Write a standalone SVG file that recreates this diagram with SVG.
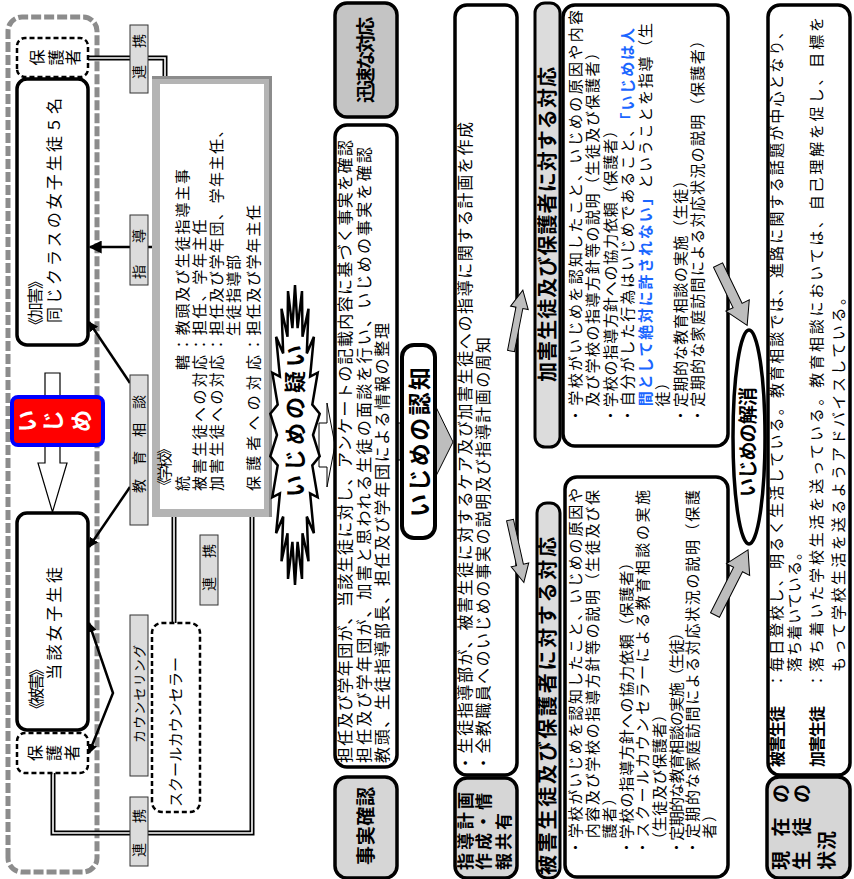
<svg xmlns="http://www.w3.org/2000/svg" width="854" height="879" viewBox="0 0 854 879">
<style>
text{font-family:"Noto Sans CJK JP","Noto Sans CJK SC",sans-serif}
.bx{fill:#fff;stroke:#000;stroke-width:3.5}
.dsh{fill:#fff;stroke:#000;stroke-width:2.5;stroke-dasharray:5 3}
.lbl{fill:#dcdcdc;stroke:#333;stroke-width:1}
.hd{fill:#dcdcdc;stroke:#000;stroke-width:3}
.gl{fill:#d6d6d6;stroke:#000;stroke-width:3.5}
.ln{fill:none;stroke:#000;stroke-width:2.5}
.dbl{fill:none;stroke:#000;stroke-width:5}
.dbi{fill:none;stroke:#fff;stroke-width:1.6}
.ga{fill:#bdbdbd;stroke:#000;stroke-width:1}
.bl{fill:#1a66ff;font-weight:bold}
.b{font-weight:bold}
</style>
<defs>
<marker id="ah" viewBox="0 0 10 10" refX="9" refY="5" markerWidth="10" markerHeight="10" markerUnits="userSpaceOnUse" orient="auto-start-reverse"><path d="M0,0 L10,5 L0,10 z"/></marker>
<marker id="ah2" viewBox="0 0 10 10" refX="9" refY="5" markerWidth="13" markerHeight="13" markerUnits="userSpaceOnUse" orient="auto"><path d="M0,0 L10,5 L0,10 z"/></marker>
</defs>
<g transform="matrix(0,-1,1,0,0,879)">
<g id="band"><rect x="7" y="8" width="855" height="89" rx="14" fill="none" stroke="#8c8c8c" stroke-width="5" stroke-dasharray="10 3"/></g>

<g id="connectors">
<path class="dbl" d="M821,88 V165 H803"/><path class="dbi" d="M821,88 V165 H803"/>
<path class="dbl" d="M106,53 H46 V252 H362"/><path class="dbi" d="M106,53 H46 V252 H362"/>
<path class="dbl" d="M362,174 H256"/><path class="dbi" d="M362,174 H256"/>
<path class="ln" stroke-width="4" d="M632,152 V90" marker-end="url(#ah2)"/>
<path class="ln" d="M496,130 L557,89" marker-end="url(#ah)"/>
<path class="ln" d="M392,130 L332,89" marker-end="url(#ah)"/>
<path class="ln" d="M256,89 L186,113 L126,89" marker-start="url(#ah)" marker-end="url(#ah)"/>
<polygon fill="#fff" stroke="#000" stroke-width="1.2" points="506,45 416,45 416,38 367,52.5 416,67 416,60 506,60"/>
<polygon fill="#fff" stroke="#000" stroke-width="1" points="412,319 456,319 456,327 476,327 434,335 392,327 412,327"/>
<polygon class="ga" points="419,397 456,397 456,435 474,435 437,453 401,435 419,435"/>
</g>

<g id="hogosha-top"><rect class="dsh" x="802" y="17" width="39" height="71" rx="8"/>
<text x="821.5" y="43" text-anchor="middle" font-size="16">保</text>
<text x="821.5" y="62" text-anchor="middle" font-size="16">護</text>
<text x="821.5" y="79" text-anchor="middle" font-size="16">者</text></g>

<g id="kagai"><rect class="bx" x="534" y="17" width="266" height="71" rx="10"/>
<text x="546" y="41" font-size="16" textLength="60">《加害》</text>
<text x="556" y="60" font-size="16" textLength="225">同じクラスの女子生徒５名</text></g>

<g id="ijime"><rect x="434" y="12" width="48" height="91" rx="6" fill="#f00" stroke="#00f" stroke-width="4"/>
<text x="458" y="35" text-anchor="middle" font-size="22" font-weight="bold" fill="#fff">い</text>
<text x="458" y="61" text-anchor="middle" font-size="22" font-weight="bold" fill="#fff">じ</text>
<text x="458" y="89" text-anchor="middle" font-size="22" font-weight="bold" fill="#fff">め</text></g>

<g id="higai"><rect class="bx" x="149" y="17" width="217" height="71" rx="10"/>
<text x="162" y="42" font-size="16" textLength="56">《被害》</text>
<text x="199" y="60" font-size="16" textLength="113">当該女子生徒</text></g>

<g id="hogosha-bottom"><rect class="dsh" x="106" y="17" width="40" height="71" rx="8"/>
<text x="126" y="41" text-anchor="middle" font-size="16">保</text>
<text x="126" y="60" text-anchor="middle" font-size="16">護</text>
<text x="126" y="78" text-anchor="middle" font-size="16">者</text></g>

<g id="school">
<rect x="366" y="156" width="433" height="112" fill="#fff" stroke="#b4b4b4" stroke-width="8"/>
<path d="M362,270.5 H801.5 V152" fill="none" stroke="#8c8c8c" stroke-width="3"/>
<text x="386" y="170" font-size="15" textLength="52">《学校》</text>
<text x="388" y="188" font-size="15">統</text>
<text x="509" y="188" font-size="15">轄</text>
<text x="527" y="188" font-size="15" letter-spacing="1.8">：教頭及び生徒指導主事</text>
<text x="388" y="205" font-size="15" textLength="136">被害生徒への対応</text>
<text x="527" y="205" font-size="15" letter-spacing="1.8">：担任、学年主任</text>
<text x="388" y="222" font-size="15" textLength="136">加害生徒への対応</text>
<text x="527" y="222" font-size="15" letter-spacing="1.5">：担任及び学年団、学年主任、</text>
<text x="543" y="239" font-size="15" letter-spacing="1.5">生徒指導部</text>
<text x="388" y="259" font-size="15" textLength="136">保護者への対応</text>
<text x="527" y="259" font-size="15" letter-spacing="1.5">：担任及び学年主任</text>
</g>

<g id="sc"><rect class="dsh" x="67" y="152" width="189" height="48" rx="10"/>
<text x="72" y="181" font-size="15" textLength="150">スクールカウンセラー</text></g>

<g id="utagai"><polygon fill="#fff" stroke="#000" stroke-width="2.5" points="594,295 550.9,297.6 587.9,302 542.2,302.5 570.2,308.5 525.6,306.8 542.2,313.9 502.4,310.1 506.3,317.7 474.4,312.3 465.3,319.7 444,313 422.7,319.7 413.6,312.3 381.7,317.7 385.6,310.1 345.8,313.9 362.4,306.8 317.8,308.5 345.8,302.5 300.1,302 337.1,297.6 294,295 337.1,292.4 300.1,288 345.8,287.5 317.8,281.5 362.4,283.2 345.8,276.1 385.6,279.9 381.7,272.3 413.6,277.7 422.7,270.3 444,277 465.3,270.3 474.4,277.7 506.3,272.3 502.4,279.9 542.2,276.1 525.6,283.2 570.2,281.5 542.2,287.5 587.9,288 550.9,292.4"/>
<text x="382" y="303" font-size="22" font-weight="bold" textLength="152">いじめの疑い</text></g>

<g id="jinsoku"><rect x="762" y="335" width="114" height="62" rx="12" fill="#c4c4c4" stroke="#000" stroke-width="3.5"/>
<text x="776" y="373" font-size="19" font-weight="bold" textLength="86">迅速な対応</text></g>

<g id="jijitsu"><rect class="bx" x="112" y="335" width="642" height="62" rx="12"/>
<text x="116" y="351" font-size="16" textLength="623">担任及び学年団が、当該生徒に対し、アンケートの記載内容に基づく事実を確認</text>
<text x="116" y="370" font-size="16" textLength="616">担任及び学年団が、加害と思われる生徒の面談を行い、いじめの事実を確認</text>
<text x="116" y="388" font-size="16" textLength="440">教頭、生徒指導部長、担任及び学年団による情報の整理</text></g>

<g id="jijitsu-label"><rect class="gl" x="1" y="335" width="101" height="62" rx="12"/>
<text x="14" y="373" font-size="19" font-weight="bold" textLength="78">事実確認</text></g>

<g id="shido"><rect class="bx" x="104" y="455" width="770" height="62" rx="12"/>
<text x="108" y="471" font-size="16" textLength="649">・生徒指導部が、被害生徒に対するケア及び加害生徒への指導に関する計画を作成</text>
<text x="108" y="489" font-size="16" textLength="434">・全教職員へのいじめの事実の説明及び指導計画の周知</text></g>

<g id="shido-label"><rect class="gl" x="1" y="455" width="100" height="62" rx="12"/>
<text x="9" y="472" font-size="17" font-weight="bold" textLength="78">指導計画</text>
<text x="9" y="490" font-size="17" font-weight="bold" textLength="77">作成・情</text>
<text x="9" y="510" font-size="17" font-weight="bold" textLength="57">報共有</text></g>

<g id="ninchi"><rect x="341" y="402" width="193" height="33" rx="12" fill="#fff" stroke="#000" stroke-width="4"/>
<text x="362" y="428" font-size="23" font-weight="bold" textLength="150">いじめの認知</text></g>

<g id="higai-sec">
<rect class="hd" x="1" y="537" width="375" height="23" rx="10"/>
<text x="4" y="555" font-size="20" font-weight="bold" textLength="338">被害生徒及び保護者に対する対応</text>
<rect class="bx" x="2" y="565" width="400" height="163" rx="12"/>
<text x="24" y="581" font-size="15" textLength="367">・学校がいじめを認知したこと、いじめの原因や</text>
<text x="24" y="598" font-size="15" textLength="365">　内容及び学校の指導方針等の説明（生徒及び保</text>
<text x="24" y="615" font-size="15" letter-spacing="1.5">　護者）</text>
<text x="24" y="632" font-size="15" textLength="300">・学校の指導方針への協力依頼（保護者）</text>
<text x="24" y="648" font-size="15" textLength="365">・スクールカウンセラーによる教育相談の実施</text>
<text x="24" y="665" font-size="15" textLength="148">　（生徒及び保護者）</text>
<text x="24" y="682" font-size="15" textLength="230">・定期的な教育相談の実施（生徒）</text>
<text x="24" y="698" font-size="15" textLength="365">・定期的な家庭訪問による対応状況の説明（保護</text>
<text x="24" y="715" font-size="15" letter-spacing="1.5">　者）</text>
</g>

<g id="kagai-sec">
<rect class="hd" x="432" y="535" width="444" height="25" rx="10"/>
<text x="497" y="555" font-size="20" font-weight="bold" textLength="315">加害生徒及び保護者に対する対応</text>
<rect class="bx" x="433" y="563" width="441" height="165" rx="12"/>
<text x="456" y="581" font-size="15" textLength="413">・学校がいじめを認知したこと、いじめの原因や内容</text>
<text x="456" y="598" font-size="15" textLength="378">　及び学校の指導方針等の説明（生徒及び保護者）</text>
<text x="456" y="616" font-size="15" textLength="300">・学校の指導方針への協力依頼（保護者）</text>
<text x="456" y="633" font-size="15" textLength="395">・自分がした行為はいじめであること、<tspan class="bl">「いじめは人</tspan></text>
<text x="456" y="651" font-size="15" textLength="400">　<tspan class="bl">間として絶対に許されない」</tspan>ということを指導（生</text>
<text x="456" y="668" font-size="15" letter-spacing="1.5">　徒）</text>
<text x="456" y="686" font-size="15" textLength="250">・定期的な教育相談の実施（生徒）</text>
<text x="456" y="703" font-size="15" textLength="390">・定期的な家庭訪問による対応状況の説明（保護者）</text>
</g>

<g id="kaisho"><ellipse cx="442" cy="749" rx="107" ry="16" fill="#fff" stroke="#000" stroke-width="3.5"/>
<text x="382" y="755" font-size="19" font-weight="bold" textLength="110">いじめの解消</text></g>

<g id="genzai-label"><rect class="gl" x="1" y="767" width="101" height="83" rx="12"/>
<text x="9" y="788" font-size="19" font-weight="bold" letter-spacing="14.5">現在の</text>
<text x="9" y="809" font-size="19" font-weight="bold" letter-spacing="14.5">生徒の</text>
<text x="9" y="834" font-size="19" font-weight="bold" letter-spacing="1">状況</text></g>

<g id="genzai"><rect class="bx" x="104" y="768" width="770" height="82" rx="12"/>
<text x="112" y="783" font-size="16" font-weight="bold" letter-spacing="-1">被害生徒</text>
<text x="191" y="782" font-size="15">：</text>
<text x="207" y="782" font-size="15" textLength="648">毎日登校し、明るく生活している。教育相談では、進路に関する話題が中心となり、</text>
<text x="207" y="800" font-size="15" textLength="127">落ち着いている。</text>
<text x="112" y="823" font-size="16" font-weight="bold" letter-spacing="-1">加害生徒</text>
<text x="191" y="822" font-size="15">：</text>
<text x="207" y="822" font-size="15" textLength="655">落ち着いた学校生活を送っている。教育相談においては、自己理解を促し、目標を</text>
<text x="207" y="844" font-size="15" textLength="382">もって学校生活を送るようアドバイスしている。</text></g>

<g id="gray-arrows">
<polygon class="ga" transform="translate(528,511) rotate(11)" points="0,-3.5 44,-3.5 44,-9 62,0 44,9 44,3.5 0,3.5"/>
<polygon class="ga" transform="translate(359,510) rotate(167.5)" points="0,-3.5 46,-3.5 46,-9 64,0 46,9 46,3.5 0,3.5"/>
<polygon class="ga" transform="translate(614,718) rotate(154.2)" points="0,-5 45,-5 45,-13 67,0 45,13 45,5 0,5"/>
<polygon class="ga" transform="translate(264,715) rotate(26.9)" points="0,-5 51,-5 51,-13 73,0 51,13 51,5 0,5"/>
</g>

<g id="labels">
<rect class="lbl" x="786" y="130" width="68" height="18"/>
<text x="800" y="144" font-size="14" letter-spacing="17">連携</text>
<rect class="lbl" x="594" y="130" width="70" height="18"/>
<text x="600" y="144" font-size="14" letter-spacing="22">指導</text>
<rect class="lbl" x="354" y="130" width="150" height="18"/>
<text x="386" y="144" font-size="14" letter-spacing="14">教育相談</text>
<rect class="lbl" x="103" y="130" width="161" height="18"/>
<text x="136" y="144" font-size="13" textLength="98">カウンセリング</text>
<rect class="lbl" x="13" y="130" width="69" height="18"/>
<text x="22" y="144" font-size="14" letter-spacing="20">連携</text>
<rect class="lbl" x="274" y="200" width="70" height="18"/>
<text x="288" y="214" font-size="14" letter-spacing="19">連携</text>
</g>
</g>
</svg>
